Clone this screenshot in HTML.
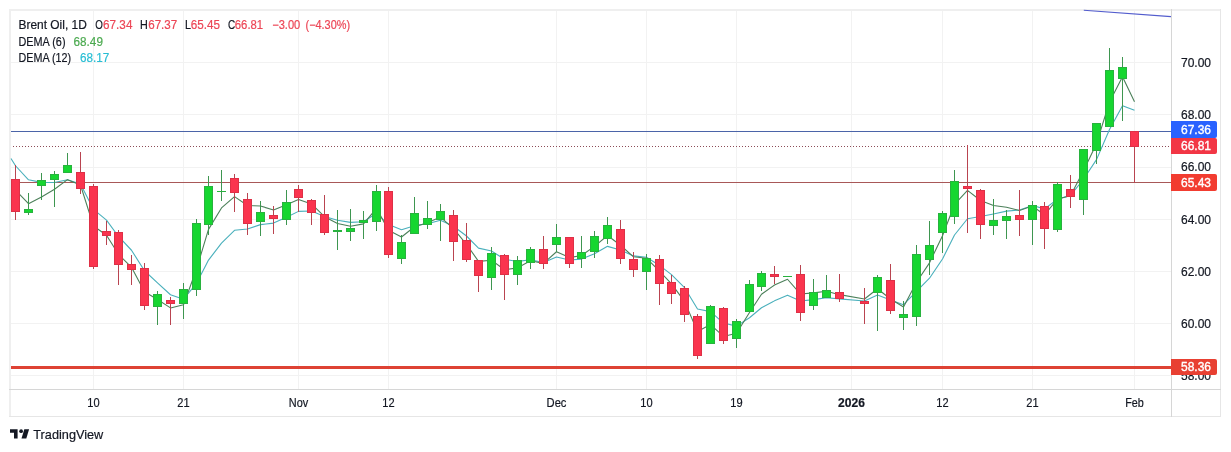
<!DOCTYPE html>
<html><head><meta charset="utf-8"><style>
html,body{margin:0;padding:0;background:#fff;width:1231px;height:452px;overflow:hidden}
svg{display:block}
text{-webkit-font-smoothing:antialiased}
svg{will-change:transform}
text{font-family:"Liberation Sans",Arial,sans-serif}
.ax{font-size:12px;fill:#131722;stroke:#131722;stroke-width:0.2px}
.lb{font-size:12px;fill:#fff;stroke:#fff;stroke-width:0.35px}
.tx{font-size:12px;fill:#131722;stroke:#131722;stroke-width:0.2px}
.b{font-weight:bold}
.lg{font-size:12px;stroke-width:0.2px}
.logo{font-size:12.6px;fill:#131722;stroke:#131722;stroke-width:0.2px}
</style></head><body>
<svg width="1231" height="452" viewBox="0 0 1231 452">
<rect x="0" y="0" width="1231" height="452" fill="#fff"/>
<g shape-rendering="crispEdges">
<rect x="9" y="9" width="1212" height="2" fill="#efefef"/>
<rect x="9" y="9" width="2" height="408" fill="#efefef"/>
<rect x="1220" y="9" width="1" height="408" fill="#e6e6e6"/>
<rect x="9" y="416" width="1212" height="1" fill="#e6e6e6"/>
</g>
<svg x="0" y="0" width="1171" height="389" overflow="hidden"><g shape-rendering="crispEdges"><rect x="11" y="62" width="1160" height="1" fill="#f2f2f2"/><rect x="11" y="114" width="1160" height="1" fill="#f2f2f2"/><rect x="11" y="167" width="1160" height="1" fill="#f2f2f2"/><rect x="11" y="219" width="1160" height="1" fill="#f2f2f2"/><rect x="11" y="271" width="1160" height="1" fill="#f2f2f2"/><rect x="11" y="323" width="1160" height="1" fill="#f2f2f2"/><rect x="11" y="375" width="1160" height="1" fill="#f2f2f2"/><rect x="93" y="11" width="1" height="378" fill="#f2f2f2"/><rect x="183" y="11" width="1" height="378" fill="#f2f2f2"/><rect x="298" y="11" width="1" height="378" fill="#f2f2f2"/><rect x="388" y="11" width="1" height="378" fill="#f2f2f2"/><rect x="556" y="11" width="1" height="378" fill="#f2f2f2"/><rect x="646" y="11" width="1" height="378" fill="#f2f2f2"/><rect x="736" y="11" width="1" height="378" fill="#f2f2f2"/><rect x="851" y="11" width="1" height="378" fill="#f2f2f2"/><rect x="942" y="11" width="1" height="378" fill="#f2f2f2"/><rect x="1032" y="11" width="1" height="378" fill="#f2f2f2"/><rect x="1134" y="11" width="1" height="378" fill="#f2f2f2"/><rect x="11" y="131" width="1160" height="1" fill="rgb(75,100,168)"/><rect x="11" y="182" width="1160" height="1" fill="rgb(168,88,88)"/><path d="M13 146h1v1h-1zM16 146h1v1h-1zM19 146h1v1h-1zM22 146h1v1h-1zM25 146h1v1h-1zM28 146h1v1h-1zM31 146h1v1h-1zM34 146h1v1h-1zM37 146h1v1h-1zM40 146h1v1h-1zM43 146h1v1h-1zM46 146h1v1h-1zM49 146h1v1h-1zM52 146h1v1h-1zM55 146h1v1h-1zM58 146h1v1h-1zM61 146h1v1h-1zM64 146h1v1h-1zM67 146h1v1h-1zM70 146h1v1h-1zM73 146h1v1h-1zM76 146h1v1h-1zM79 146h1v1h-1zM82 146h1v1h-1zM85 146h1v1h-1zM88 146h1v1h-1zM91 146h1v1h-1zM94 146h1v1h-1zM97 146h1v1h-1zM100 146h1v1h-1zM103 146h1v1h-1zM106 146h1v1h-1zM109 146h1v1h-1zM112 146h1v1h-1zM115 146h1v1h-1zM118 146h1v1h-1zM121 146h1v1h-1zM124 146h1v1h-1zM127 146h1v1h-1zM130 146h1v1h-1zM133 146h1v1h-1zM136 146h1v1h-1zM139 146h1v1h-1zM142 146h1v1h-1zM145 146h1v1h-1zM148 146h1v1h-1zM151 146h1v1h-1zM154 146h1v1h-1zM157 146h1v1h-1zM160 146h1v1h-1zM163 146h1v1h-1zM166 146h1v1h-1zM169 146h1v1h-1zM172 146h1v1h-1zM175 146h1v1h-1zM178 146h1v1h-1zM181 146h1v1h-1zM184 146h1v1h-1zM187 146h1v1h-1zM190 146h1v1h-1zM193 146h1v1h-1zM196 146h1v1h-1zM199 146h1v1h-1zM202 146h1v1h-1zM205 146h1v1h-1zM208 146h1v1h-1zM211 146h1v1h-1zM214 146h1v1h-1zM217 146h1v1h-1zM220 146h1v1h-1zM223 146h1v1h-1zM226 146h1v1h-1zM229 146h1v1h-1zM232 146h1v1h-1zM235 146h1v1h-1zM238 146h1v1h-1zM241 146h1v1h-1zM244 146h1v1h-1zM247 146h1v1h-1zM250 146h1v1h-1zM253 146h1v1h-1zM256 146h1v1h-1zM259 146h1v1h-1zM262 146h1v1h-1zM265 146h1v1h-1zM268 146h1v1h-1zM271 146h1v1h-1zM274 146h1v1h-1zM277 146h1v1h-1zM280 146h1v1h-1zM283 146h1v1h-1zM286 146h1v1h-1zM289 146h1v1h-1zM292 146h1v1h-1zM295 146h1v1h-1zM298 146h1v1h-1zM301 146h1v1h-1zM304 146h1v1h-1zM307 146h1v1h-1zM310 146h1v1h-1zM313 146h1v1h-1zM316 146h1v1h-1zM319 146h1v1h-1zM322 146h1v1h-1zM325 146h1v1h-1zM328 146h1v1h-1zM331 146h1v1h-1zM334 146h1v1h-1zM337 146h1v1h-1zM340 146h1v1h-1zM343 146h1v1h-1zM346 146h1v1h-1zM349 146h1v1h-1zM352 146h1v1h-1zM355 146h1v1h-1zM358 146h1v1h-1zM361 146h1v1h-1zM364 146h1v1h-1zM367 146h1v1h-1zM370 146h1v1h-1zM373 146h1v1h-1zM376 146h1v1h-1zM379 146h1v1h-1zM382 146h1v1h-1zM385 146h1v1h-1zM388 146h1v1h-1zM391 146h1v1h-1zM394 146h1v1h-1zM397 146h1v1h-1zM400 146h1v1h-1zM403 146h1v1h-1zM406 146h1v1h-1zM409 146h1v1h-1zM412 146h1v1h-1zM415 146h1v1h-1zM418 146h1v1h-1zM421 146h1v1h-1zM424 146h1v1h-1zM427 146h1v1h-1zM430 146h1v1h-1zM433 146h1v1h-1zM436 146h1v1h-1zM439 146h1v1h-1zM442 146h1v1h-1zM445 146h1v1h-1zM448 146h1v1h-1zM451 146h1v1h-1zM454 146h1v1h-1zM457 146h1v1h-1zM460 146h1v1h-1zM463 146h1v1h-1zM466 146h1v1h-1zM469 146h1v1h-1zM472 146h1v1h-1zM475 146h1v1h-1zM478 146h1v1h-1zM481 146h1v1h-1zM484 146h1v1h-1zM487 146h1v1h-1zM490 146h1v1h-1zM493 146h1v1h-1zM496 146h1v1h-1zM499 146h1v1h-1zM502 146h1v1h-1zM505 146h1v1h-1zM508 146h1v1h-1zM511 146h1v1h-1zM514 146h1v1h-1zM517 146h1v1h-1zM520 146h1v1h-1zM523 146h1v1h-1zM526 146h1v1h-1zM529 146h1v1h-1zM532 146h1v1h-1zM535 146h1v1h-1zM538 146h1v1h-1zM541 146h1v1h-1zM544 146h1v1h-1zM547 146h1v1h-1zM550 146h1v1h-1zM553 146h1v1h-1zM556 146h1v1h-1zM559 146h1v1h-1zM562 146h1v1h-1zM565 146h1v1h-1zM568 146h1v1h-1zM571 146h1v1h-1zM574 146h1v1h-1zM577 146h1v1h-1zM580 146h1v1h-1zM583 146h1v1h-1zM586 146h1v1h-1zM589 146h1v1h-1zM592 146h1v1h-1zM595 146h1v1h-1zM598 146h1v1h-1zM601 146h1v1h-1zM604 146h1v1h-1zM607 146h1v1h-1zM610 146h1v1h-1zM613 146h1v1h-1zM616 146h1v1h-1zM619 146h1v1h-1zM622 146h1v1h-1zM625 146h1v1h-1zM628 146h1v1h-1zM631 146h1v1h-1zM634 146h1v1h-1zM637 146h1v1h-1zM640 146h1v1h-1zM643 146h1v1h-1zM646 146h1v1h-1zM649 146h1v1h-1zM652 146h1v1h-1zM655 146h1v1h-1zM658 146h1v1h-1zM661 146h1v1h-1zM664 146h1v1h-1zM667 146h1v1h-1zM670 146h1v1h-1zM673 146h1v1h-1zM676 146h1v1h-1zM679 146h1v1h-1zM682 146h1v1h-1zM685 146h1v1h-1zM688 146h1v1h-1zM691 146h1v1h-1zM694 146h1v1h-1zM697 146h1v1h-1zM700 146h1v1h-1zM703 146h1v1h-1zM706 146h1v1h-1zM709 146h1v1h-1zM712 146h1v1h-1zM715 146h1v1h-1zM718 146h1v1h-1zM721 146h1v1h-1zM724 146h1v1h-1zM727 146h1v1h-1zM730 146h1v1h-1zM733 146h1v1h-1zM736 146h1v1h-1zM739 146h1v1h-1zM742 146h1v1h-1zM745 146h1v1h-1zM748 146h1v1h-1zM751 146h1v1h-1zM754 146h1v1h-1zM757 146h1v1h-1zM760 146h1v1h-1zM763 146h1v1h-1zM766 146h1v1h-1zM769 146h1v1h-1zM772 146h1v1h-1zM775 146h1v1h-1zM778 146h1v1h-1zM781 146h1v1h-1zM784 146h1v1h-1zM787 146h1v1h-1zM790 146h1v1h-1zM793 146h1v1h-1zM796 146h1v1h-1zM799 146h1v1h-1zM802 146h1v1h-1zM805 146h1v1h-1zM808 146h1v1h-1zM811 146h1v1h-1zM814 146h1v1h-1zM817 146h1v1h-1zM820 146h1v1h-1zM823 146h1v1h-1zM826 146h1v1h-1zM829 146h1v1h-1zM832 146h1v1h-1zM835 146h1v1h-1zM838 146h1v1h-1zM841 146h1v1h-1zM844 146h1v1h-1zM847 146h1v1h-1zM850 146h1v1h-1zM853 146h1v1h-1zM856 146h1v1h-1zM859 146h1v1h-1zM862 146h1v1h-1zM865 146h1v1h-1zM868 146h1v1h-1zM871 146h1v1h-1zM874 146h1v1h-1zM877 146h1v1h-1zM880 146h1v1h-1zM883 146h1v1h-1zM886 146h1v1h-1zM889 146h1v1h-1zM892 146h1v1h-1zM895 146h1v1h-1zM898 146h1v1h-1zM901 146h1v1h-1zM904 146h1v1h-1zM907 146h1v1h-1zM910 146h1v1h-1zM913 146h1v1h-1zM916 146h1v1h-1zM919 146h1v1h-1zM922 146h1v1h-1zM925 146h1v1h-1zM928 146h1v1h-1zM931 146h1v1h-1zM934 146h1v1h-1zM937 146h1v1h-1zM940 146h1v1h-1zM943 146h1v1h-1zM946 146h1v1h-1zM949 146h1v1h-1zM952 146h1v1h-1zM955 146h1v1h-1zM958 146h1v1h-1zM961 146h1v1h-1zM964 146h1v1h-1zM967 146h1v1h-1zM970 146h1v1h-1zM973 146h1v1h-1zM976 146h1v1h-1zM979 146h1v1h-1zM982 146h1v1h-1zM985 146h1v1h-1zM988 146h1v1h-1zM991 146h1v1h-1zM994 146h1v1h-1zM997 146h1v1h-1zM1000 146h1v1h-1zM1003 146h1v1h-1zM1006 146h1v1h-1zM1009 146h1v1h-1zM1012 146h1v1h-1zM1015 146h1v1h-1zM1018 146h1v1h-1zM1021 146h1v1h-1zM1024 146h1v1h-1zM1027 146h1v1h-1zM1030 146h1v1h-1zM1033 146h1v1h-1zM1036 146h1v1h-1zM1039 146h1v1h-1zM1042 146h1v1h-1zM1045 146h1v1h-1zM1048 146h1v1h-1zM1051 146h1v1h-1zM1054 146h1v1h-1zM1057 146h1v1h-1zM1060 146h1v1h-1zM1063 146h1v1h-1zM1066 146h1v1h-1zM1069 146h1v1h-1zM1072 146h1v1h-1zM1075 146h1v1h-1zM1078 146h1v1h-1zM1081 146h1v1h-1zM1084 146h1v1h-1zM1087 146h1v1h-1zM1090 146h1v1h-1zM1093 146h1v1h-1zM1096 146h1v1h-1zM1099 146h1v1h-1zM1102 146h1v1h-1zM1105 146h1v1h-1zM1108 146h1v1h-1zM1111 146h1v1h-1zM1114 146h1v1h-1zM1117 146h1v1h-1zM1120 146h1v1h-1zM1123 146h1v1h-1zM1126 146h1v1h-1zM1129 146h1v1h-1zM1132 146h1v1h-1zM1135 146h1v1h-1zM1138 146h1v1h-1zM1141 146h1v1h-1zM1144 146h1v1h-1zM1147 146h1v1h-1zM1150 146h1v1h-1zM1153 146h1v1h-1zM1156 146h1v1h-1zM1159 146h1v1h-1zM1162 146h1v1h-1zM1165 146h1v1h-1zM1168 146h1v1h-1z" fill="rgb(140,76,86)"/><rect x="11" y="366" width="1160" height="3" fill="rgb(222,66,52)"/><polyline points="11,158.5 15.5,165.75 28.5,179.80 41.5,182.38 54.5,182.47 67.5,179.79 80.5,184.12 93.5,209.39 106.5,220.09 118.5,236.46 131.5,250.25 144.5,270.75 157.5,282.93 170.5,294.72 183.5,299.26 196.5,283.33 208.5,260.12 221.5,243.14 234.5,230.32 247.5,228.95 260.5,224.63 273.5,223.12 286.5,217.25 298.5,211.37 311.5,211.06 324.5,216.53 337.5,220.20 350.5,222.38 363.5,221.81 376.5,213.22 388.5,224.60 401.5,229.82 414.5,225.66 427.5,223.76 440.5,220.30 453.5,226.27 466.5,236.01 478.5,248.10 491.5,250.98 504.5,259.28 517.5,261.48 530.5,259.75 543.5,262.49 556.5,256.95 569.5,260.05 581.5,259.11 594.5,253.77 607.5,246.35 620.5,249.93 633.5,255.88 646.5,257.28 659.5,265.41 671.5,274.58 684.5,287.53 697.5,309.08 710.5,311.61 723.5,323.06 736.5,326.14 749.5,317.72 761.5,307.76 774.5,300.87 787.5,295.14 800.5,301.03 813.5,299.59 826.5,297.81 839.5,298.88 864.5,300.98 877.5,295.07 890.5,299.96 903.5,304.71 916.5,291.30 929.5,278.23 942.5,258.95 954.5,235.00 967.5,218.76 980.5,216.54 993.5,213.94 1006.5,211.09 1019.5,210.02 1032.5,205.53 1044.5,208.90 1057.5,199.22 1070.5,195.40 1083.5,179.23 1096.5,159.61 1109.5,129.51 1122.5,105.69 1134.5,110.30" fill="none" stroke="rgb(74,176,188)" stroke-width="1.1" stroke-linejoin="round" shape-rendering="geometricPrecision"/><polyline points="15.5,190.10 28.5,203.67 41.5,196.94 54.5,189.21 67.5,179.66 80.5,184.98 93.5,226.05 106.5,235.20 118.5,254.30 131.5,267.30 144.5,291.68 157.5,299.52 170.5,307.91 183.5,304.76 196.5,269.21 208.5,229.40 221.5,207.95 234.5,196.60 247.5,205.51 260.5,205.99 273.5,209.99 286.5,204.67 298.5,199.47 311.5,203.97 324.5,216.72 337.5,223.43 350.5,226.24 363.5,223.90 376.5,208.36 388.5,230.15 401.5,237.00 414.5,226.80 427.5,222.84 440.5,217.04 453.5,228.54 466.5,244.29 478.5,261.41 491.5,260.23 504.5,269.72 517.5,267.87 530.5,260.68 543.5,263.34 556.5,251.74 569.5,257.62 581.5,255.53 594.5,246.42 607.5,235.46 620.5,245.25 633.5,256.79 646.5,258.23 659.5,271.22 671.5,283.87 684.5,301.36 697.5,331.44 710.5,324.60 723.5,336.46 736.5,333.30 749.5,312.56 761.5,294.28 774.5,285.03 787.5,279.25 800.5,294.06 813.5,292.91 826.5,291.26 839.5,294.66 864.5,299.04 877.5,288.76 890.5,299.02 903.5,306.94 916.5,282.19 929.5,262.83 942.5,235.74 954.5,204.44 967.5,190.33 980.5,200.45 993.5,205.51 1006.5,207.33 1019.5,210.45 1032.5,205.95 1044.5,214.97 1057.5,199.02 1070.5,195.66 1083.5,170.80 1096.5,143.70 1109.5,102.01 1122.5,76.64 1134.5,101.83" fill="none" stroke="rgb(76,128,90)" stroke-width="1.1" stroke-linejoin="round" shape-rendering="geometricPrecision"/><rect x="15" y="165" width="1" height="55" fill="rgb(185,68,80)"/><rect x="11" y="179" width="9" height="33" fill="rgb(222,48,70)"/><rect x="12" y="180" width="7" height="31" fill="rgb(250,52,78)"/><rect x="28" y="193" width="1" height="22" fill="rgb(62,150,80)"/><rect x="24" y="209" width="9" height="4" fill="rgb(40,178,62)"/><rect x="25" y="210" width="7" height="2" fill="rgb(22,214,48)"/><rect x="41" y="173" width="1" height="27" fill="rgb(62,150,80)"/><rect x="37" y="180" width="9" height="6" fill="rgb(40,178,62)"/><rect x="38" y="181" width="7" height="4" fill="rgb(22,214,48)"/><rect x="54" y="171" width="1" height="36" fill="rgb(62,150,80)"/><rect x="50" y="174" width="9" height="6" fill="rgb(40,178,62)"/><rect x="51" y="175" width="7" height="4" fill="rgb(22,214,48)"/><rect x="67" y="153" width="1" height="20" fill="rgb(62,150,80)"/><rect x="63" y="165" width="9" height="8" fill="rgb(40,178,62)"/><rect x="64" y="166" width="7" height="6" fill="rgb(22,214,48)"/><rect x="80" y="152" width="1" height="42" fill="rgb(185,68,80)"/><rect x="76" y="172" width="9" height="17" fill="rgb(222,48,70)"/><rect x="77" y="173" width="7" height="15" fill="rgb(250,52,78)"/><rect x="93" y="184" width="1" height="85" fill="rgb(185,68,80)"/><rect x="89" y="186" width="9" height="81" fill="rgb(222,48,70)"/><rect x="90" y="187" width="7" height="79" fill="rgb(250,52,78)"/><rect x="106" y="221" width="1" height="24" fill="rgb(185,68,80)"/><rect x="102" y="231" width="9" height="5" fill="rgb(222,48,70)"/><rect x="103" y="232" width="7" height="3" fill="rgb(250,52,78)"/><rect x="118" y="230" width="1" height="55" fill="rgb(185,68,80)"/><rect x="114" y="232" width="9" height="33" fill="rgb(222,48,70)"/><rect x="115" y="233" width="7" height="31" fill="rgb(250,52,78)"/><rect x="131" y="255" width="1" height="30" fill="rgb(185,68,80)"/><rect x="127" y="264" width="9" height="6" fill="rgb(222,48,70)"/><rect x="128" y="265" width="7" height="4" fill="rgb(250,52,78)"/><rect x="144" y="263" width="1" height="47" fill="rgb(185,68,80)"/><rect x="140" y="268" width="9" height="38" fill="rgb(222,48,70)"/><rect x="141" y="269" width="7" height="36" fill="rgb(250,52,78)"/><rect x="157" y="291" width="1" height="34" fill="rgb(62,150,80)"/><rect x="153" y="294" width="9" height="13" fill="rgb(40,178,62)"/><rect x="154" y="295" width="7" height="11" fill="rgb(22,214,48)"/><rect x="170" y="297" width="1" height="28" fill="rgb(185,68,80)"/><rect x="166" y="300" width="9" height="4" fill="rgb(222,48,70)"/><rect x="167" y="301" width="7" height="2" fill="rgb(250,52,78)"/><rect x="183" y="283" width="1" height="36" fill="rgb(62,150,80)"/><rect x="179" y="289" width="9" height="15" fill="rgb(40,178,62)"/><rect x="180" y="290" width="7" height="13" fill="rgb(22,214,48)"/><rect x="196" y="219" width="1" height="77" fill="rgb(62,150,80)"/><rect x="192" y="223" width="9" height="67" fill="rgb(40,178,62)"/><rect x="193" y="224" width="7" height="65" fill="rgb(22,214,48)"/><rect x="208" y="176" width="1" height="59" fill="rgb(62,150,80)"/><rect x="204" y="186" width="9" height="39" fill="rgb(40,178,62)"/><rect x="205" y="187" width="7" height="37" fill="rgb(22,214,48)"/><rect x="221" y="170" width="1" height="31" fill="rgb(62,150,80)"/><rect x="217" y="191" width="9" height="1" fill="rgb(40,178,62)"/><rect x="234" y="174" width="1" height="38" fill="rgb(185,68,80)"/><rect x="230" y="178" width="9" height="15" fill="rgb(222,48,70)"/><rect x="231" y="179" width="7" height="13" fill="rgb(250,52,78)"/><rect x="247" y="193" width="1" height="42" fill="rgb(185,68,80)"/><rect x="243" y="199" width="9" height="25" fill="rgb(222,48,70)"/><rect x="244" y="200" width="7" height="23" fill="rgb(250,52,78)"/><rect x="260" y="201" width="1" height="35" fill="rgb(62,150,80)"/><rect x="256" y="212" width="9" height="10" fill="rgb(40,178,62)"/><rect x="257" y="213" width="7" height="8" fill="rgb(22,214,48)"/><rect x="273" y="206" width="1" height="28" fill="rgb(185,68,80)"/><rect x="269" y="215" width="9" height="4" fill="rgb(222,48,70)"/><rect x="270" y="216" width="7" height="2" fill="rgb(250,52,78)"/><rect x="286" y="190" width="1" height="35" fill="rgb(62,150,80)"/><rect x="282" y="202" width="9" height="18" fill="rgb(40,178,62)"/><rect x="283" y="203" width="7" height="16" fill="rgb(22,214,48)"/><rect x="298" y="185" width="1" height="27" fill="rgb(185,68,80)"/><rect x="294" y="189" width="9" height="9" fill="rgb(222,48,70)"/><rect x="295" y="190" width="7" height="7" fill="rgb(250,52,78)"/><rect x="311" y="199" width="1" height="26" fill="rgb(185,68,80)"/><rect x="307" y="200" width="9" height="13" fill="rgb(222,48,70)"/><rect x="308" y="201" width="7" height="11" fill="rgb(250,52,78)"/><rect x="324" y="195" width="1" height="40" fill="rgb(185,68,80)"/><rect x="320" y="214" width="9" height="19" fill="rgb(222,48,70)"/><rect x="321" y="215" width="7" height="17" fill="rgb(250,52,78)"/><rect x="337" y="210" width="1" height="40" fill="rgb(62,150,80)"/><rect x="333" y="230" width="9" height="2" fill="rgb(40,178,62)"/><rect x="350" y="209" width="1" height="32" fill="rgb(62,150,80)"/><rect x="346" y="228" width="9" height="4" fill="rgb(40,178,62)"/><rect x="347" y="229" width="7" height="2" fill="rgb(22,214,48)"/><rect x="363" y="211" width="1" height="28" fill="rgb(62,150,80)"/><rect x="359" y="220" width="9" height="3" fill="rgb(40,178,62)"/><rect x="360" y="221" width="7" height="1" fill="rgb(22,214,48)"/><rect x="376" y="185" width="1" height="46" fill="rgb(62,150,80)"/><rect x="372" y="191" width="9" height="31" fill="rgb(40,178,62)"/><rect x="373" y="192" width="7" height="29" fill="rgb(22,214,48)"/><rect x="388" y="187" width="1" height="71" fill="rgb(185,68,80)"/><rect x="384" y="191" width="9" height="64" fill="rgb(222,48,70)"/><rect x="385" y="192" width="7" height="62" fill="rgb(250,52,78)"/><rect x="401" y="235" width="1" height="29" fill="rgb(62,150,80)"/><rect x="397" y="242" width="9" height="17" fill="rgb(40,178,62)"/><rect x="398" y="243" width="7" height="15" fill="rgb(22,214,48)"/><rect x="414" y="197" width="1" height="37" fill="rgb(62,150,80)"/><rect x="410" y="213" width="9" height="21" fill="rgb(40,178,62)"/><rect x="411" y="214" width="7" height="19" fill="rgb(22,214,48)"/><rect x="427" y="201" width="1" height="28" fill="rgb(62,150,80)"/><rect x="423" y="218" width="9" height="7" fill="rgb(40,178,62)"/><rect x="424" y="219" width="7" height="5" fill="rgb(22,214,48)"/><rect x="440" y="204" width="1" height="37" fill="rgb(62,150,80)"/><rect x="436" y="211" width="9" height="9" fill="rgb(40,178,62)"/><rect x="437" y="212" width="7" height="7" fill="rgb(22,214,48)"/><rect x="453" y="210" width="1" height="51" fill="rgb(185,68,80)"/><rect x="449" y="215" width="9" height="27" fill="rgb(222,48,70)"/><rect x="450" y="216" width="7" height="25" fill="rgb(250,52,78)"/><rect x="466" y="223" width="1" height="39" fill="rgb(185,68,80)"/><rect x="462" y="240" width="9" height="20" fill="rgb(222,48,70)"/><rect x="463" y="241" width="7" height="18" fill="rgb(250,52,78)"/><rect x="478" y="260" width="1" height="32" fill="rgb(185,68,80)"/><rect x="474" y="260" width="9" height="16" fill="rgb(222,48,70)"/><rect x="475" y="261" width="7" height="14" fill="rgb(250,52,78)"/><rect x="491" y="247" width="1" height="43" fill="rgb(62,150,80)"/><rect x="487" y="253" width="9" height="25" fill="rgb(40,178,62)"/><rect x="488" y="254" width="7" height="23" fill="rgb(22,214,48)"/><rect x="504" y="254" width="1" height="46" fill="rgb(185,68,80)"/><rect x="500" y="255" width="9" height="20" fill="rgb(222,48,70)"/><rect x="501" y="256" width="7" height="18" fill="rgb(250,52,78)"/><rect x="517" y="256" width="1" height="29" fill="rgb(62,150,80)"/><rect x="513" y="260" width="9" height="15" fill="rgb(40,178,62)"/><rect x="514" y="261" width="7" height="13" fill="rgb(22,214,48)"/><rect x="530" y="247" width="1" height="22" fill="rgb(62,150,80)"/><rect x="526" y="249" width="9" height="14" fill="rgb(40,178,62)"/><rect x="527" y="250" width="7" height="12" fill="rgb(22,214,48)"/><rect x="543" y="236" width="1" height="33" fill="rgb(185,68,80)"/><rect x="539" y="249" width="9" height="15" fill="rgb(222,48,70)"/><rect x="540" y="250" width="7" height="13" fill="rgb(250,52,78)"/><rect x="556" y="224" width="1" height="28" fill="rgb(62,150,80)"/><rect x="552" y="237" width="9" height="8" fill="rgb(40,178,62)"/><rect x="553" y="238" width="7" height="6" fill="rgb(22,214,48)"/><rect x="569" y="237" width="1" height="31" fill="rgb(185,68,80)"/><rect x="565" y="237" width="9" height="27" fill="rgb(222,48,70)"/><rect x="566" y="238" width="7" height="25" fill="rgb(250,52,78)"/><rect x="581" y="236" width="1" height="32" fill="rgb(62,150,80)"/><rect x="577" y="252" width="9" height="7" fill="rgb(40,178,62)"/><rect x="578" y="253" width="7" height="5" fill="rgb(22,214,48)"/><rect x="594" y="231" width="1" height="27" fill="rgb(62,150,80)"/><rect x="590" y="236" width="9" height="16" fill="rgb(40,178,62)"/><rect x="591" y="237" width="7" height="14" fill="rgb(22,214,48)"/><rect x="607" y="217" width="1" height="27" fill="rgb(62,150,80)"/><rect x="603" y="225" width="9" height="14" fill="rgb(40,178,62)"/><rect x="604" y="226" width="7" height="12" fill="rgb(22,214,48)"/><rect x="620" y="220" width="1" height="44" fill="rgb(185,68,80)"/><rect x="616" y="229" width="9" height="30" fill="rgb(222,48,70)"/><rect x="617" y="230" width="7" height="28" fill="rgb(250,52,78)"/><rect x="633" y="252" width="1" height="25" fill="rgb(185,68,80)"/><rect x="629" y="259" width="9" height="11" fill="rgb(222,48,70)"/><rect x="630" y="260" width="7" height="9" fill="rgb(250,52,78)"/><rect x="646" y="254" width="1" height="36" fill="rgb(62,150,80)"/><rect x="642" y="258" width="9" height="14" fill="rgb(40,178,62)"/><rect x="643" y="259" width="7" height="12" fill="rgb(22,214,48)"/><rect x="659" y="255" width="1" height="50" fill="rgb(185,68,80)"/><rect x="655" y="259" width="9" height="25" fill="rgb(222,48,70)"/><rect x="656" y="260" width="7" height="23" fill="rgb(250,52,78)"/><rect x="671" y="275" width="1" height="29" fill="rgb(185,68,80)"/><rect x="667" y="282" width="9" height="12" fill="rgb(222,48,70)"/><rect x="668" y="283" width="7" height="10" fill="rgb(250,52,78)"/><rect x="684" y="286" width="1" height="36" fill="rgb(185,68,80)"/><rect x="680" y="288" width="9" height="27" fill="rgb(222,48,70)"/><rect x="681" y="289" width="7" height="25" fill="rgb(250,52,78)"/><rect x="697" y="314" width="1" height="45" fill="rgb(185,68,80)"/><rect x="693" y="316" width="9" height="40" fill="rgb(222,48,70)"/><rect x="694" y="317" width="7" height="38" fill="rgb(250,52,78)"/><rect x="710" y="305" width="1" height="39" fill="rgb(62,150,80)"/><rect x="706" y="306" width="9" height="38" fill="rgb(40,178,62)"/><rect x="707" y="307" width="7" height="36" fill="rgb(22,214,48)"/><rect x="723" y="307" width="1" height="37" fill="rgb(185,68,80)"/><rect x="719" y="308" width="9" height="33" fill="rgb(222,48,70)"/><rect x="720" y="309" width="7" height="31" fill="rgb(250,52,78)"/><rect x="736" y="319" width="1" height="29" fill="rgb(62,150,80)"/><rect x="732" y="321" width="9" height="18" fill="rgb(40,178,62)"/><rect x="733" y="322" width="7" height="16" fill="rgb(22,214,48)"/><rect x="749" y="280" width="1" height="32" fill="rgb(62,150,80)"/><rect x="745" y="284" width="9" height="28" fill="rgb(40,178,62)"/><rect x="746" y="285" width="7" height="26" fill="rgb(22,214,48)"/><rect x="761" y="271" width="1" height="20" fill="rgb(62,150,80)"/><rect x="757" y="273" width="9" height="14" fill="rgb(40,178,62)"/><rect x="758" y="274" width="7" height="12" fill="rgb(22,214,48)"/><rect x="774" y="266" width="1" height="18" fill="rgb(185,68,80)"/><rect x="770" y="274" width="9" height="3" fill="rgb(222,48,70)"/><rect x="771" y="275" width="7" height="1" fill="rgb(250,52,78)"/><rect x="787" y="276" width="1" height="1" fill="rgb(62,150,80)"/><rect x="783" y="276" width="9" height="1" fill="rgb(40,178,62)"/><rect x="800" y="265" width="1" height="56" fill="rgb(185,68,80)"/><rect x="796" y="274" width="9" height="39" fill="rgb(222,48,70)"/><rect x="797" y="275" width="7" height="37" fill="rgb(250,52,78)"/><rect x="813" y="279" width="1" height="31" fill="rgb(62,150,80)"/><rect x="809" y="292" width="9" height="14" fill="rgb(40,178,62)"/><rect x="810" y="293" width="7" height="12" fill="rgb(22,214,48)"/><rect x="826" y="275" width="1" height="23" fill="rgb(62,150,80)"/><rect x="822" y="290" width="9" height="8" fill="rgb(40,178,62)"/><rect x="823" y="291" width="7" height="6" fill="rgb(22,214,48)"/><rect x="839" y="274" width="1" height="28" fill="rgb(185,68,80)"/><rect x="835" y="292" width="9" height="7" fill="rgb(222,48,70)"/><rect x="836" y="293" width="7" height="5" fill="rgb(250,52,78)"/><rect x="864" y="288" width="1" height="36" fill="rgb(185,68,80)"/><rect x="860" y="301" width="9" height="3" fill="rgb(222,48,70)"/><rect x="861" y="302" width="7" height="1" fill="rgb(250,52,78)"/><rect x="877" y="275" width="1" height="56" fill="rgb(62,150,80)"/><rect x="873" y="277" width="9" height="16" fill="rgb(40,178,62)"/><rect x="874" y="278" width="7" height="14" fill="rgb(22,214,48)"/><rect x="890" y="264" width="1" height="50" fill="rgb(185,68,80)"/><rect x="886" y="280" width="9" height="31" fill="rgb(222,48,70)"/><rect x="887" y="281" width="7" height="29" fill="rgb(250,52,78)"/><rect x="903" y="301" width="1" height="29" fill="rgb(62,150,80)"/><rect x="899" y="314" width="9" height="4" fill="rgb(40,178,62)"/><rect x="900" y="315" width="7" height="2" fill="rgb(22,214,48)"/><rect x="916" y="245" width="1" height="81" fill="rgb(62,150,80)"/><rect x="912" y="254" width="9" height="63" fill="rgb(40,178,62)"/><rect x="913" y="255" width="7" height="61" fill="rgb(22,214,48)"/><rect x="929" y="221" width="1" height="54" fill="rgb(62,150,80)"/><rect x="925" y="245" width="9" height="15" fill="rgb(40,178,62)"/><rect x="926" y="246" width="7" height="13" fill="rgb(22,214,48)"/><rect x="942" y="211" width="1" height="42" fill="rgb(62,150,80)"/><rect x="938" y="213" width="9" height="20" fill="rgb(40,178,62)"/><rect x="939" y="214" width="7" height="18" fill="rgb(22,214,48)"/><rect x="954" y="170" width="1" height="54" fill="rgb(62,150,80)"/><rect x="950" y="181" width="9" height="36" fill="rgb(40,178,62)"/><rect x="951" y="182" width="7" height="34" fill="rgb(22,214,48)"/><rect x="967" y="145" width="1" height="88" fill="rgb(185,68,80)"/><rect x="963" y="186" width="9" height="3" fill="rgb(222,48,70)"/><rect x="964" y="187" width="7" height="1" fill="rgb(250,52,78)"/><rect x="980" y="189" width="1" height="50" fill="rgb(185,68,80)"/><rect x="976" y="190" width="9" height="35" fill="rgb(222,48,70)"/><rect x="977" y="191" width="7" height="33" fill="rgb(250,52,78)"/><rect x="993" y="199" width="1" height="36" fill="rgb(62,150,80)"/><rect x="989" y="220" width="9" height="6" fill="rgb(40,178,62)"/><rect x="990" y="221" width="7" height="4" fill="rgb(22,214,48)"/><rect x="1006" y="210" width="1" height="29" fill="rgb(62,150,80)"/><rect x="1002" y="216" width="9" height="5" fill="rgb(40,178,62)"/><rect x="1003" y="217" width="7" height="3" fill="rgb(22,214,48)"/><rect x="1019" y="190" width="1" height="46" fill="rgb(185,68,80)"/><rect x="1015" y="215" width="9" height="5" fill="rgb(222,48,70)"/><rect x="1016" y="216" width="7" height="3" fill="rgb(250,52,78)"/><rect x="1032" y="201" width="1" height="44" fill="rgb(62,150,80)"/><rect x="1028" y="205" width="9" height="15" fill="rgb(40,178,62)"/><rect x="1029" y="206" width="7" height="13" fill="rgb(22,214,48)"/><rect x="1044" y="202" width="1" height="47" fill="rgb(185,68,80)"/><rect x="1040" y="206" width="9" height="23" fill="rgb(222,48,70)"/><rect x="1041" y="207" width="7" height="21" fill="rgb(250,52,78)"/><rect x="1057" y="182" width="1" height="50" fill="rgb(62,150,80)"/><rect x="1053" y="184" width="9" height="46" fill="rgb(40,178,62)"/><rect x="1054" y="185" width="7" height="44" fill="rgb(22,214,48)"/><rect x="1070" y="175" width="1" height="33" fill="rgb(185,68,80)"/><rect x="1066" y="189" width="9" height="8" fill="rgb(222,48,70)"/><rect x="1067" y="190" width="7" height="6" fill="rgb(250,52,78)"/><rect x="1083" y="149" width="1" height="66" fill="rgb(62,150,80)"/><rect x="1079" y="149" width="9" height="51" fill="rgb(40,178,62)"/><rect x="1080" y="150" width="7" height="49" fill="rgb(22,214,48)"/><rect x="1096" y="123" width="1" height="41" fill="rgb(62,150,80)"/><rect x="1092" y="123" width="9" height="28" fill="rgb(40,178,62)"/><rect x="1093" y="124" width="7" height="26" fill="rgb(22,214,48)"/><rect x="1109" y="48" width="1" height="79" fill="rgb(62,150,80)"/><rect x="1105" y="70" width="9" height="57" fill="rgb(40,178,62)"/><rect x="1106" y="71" width="7" height="55" fill="rgb(22,214,48)"/><rect x="1122" y="57" width="1" height="64" fill="rgb(62,150,80)"/><rect x="1118" y="67" width="9" height="12" fill="rgb(40,178,62)"/><rect x="1119" y="68" width="7" height="10" fill="rgb(22,214,48)"/><rect x="1134" y="131" width="1" height="52" fill="rgb(185,68,80)"/><rect x="1130" y="131" width="9" height="16" fill="rgb(222,48,70)"/><rect x="1131" y="132" width="7" height="14" fill="rgb(250,52,78)"/><line x1="1083.8" y1="10.2" x2="1171" y2="16.6" stroke="rgb(82,92,205)" stroke-width="1.1" shape-rendering="geometricPrecision"/></g></svg>
<g shape-rendering="crispEdges">
<rect x="1171" y="9" width="1" height="408" fill="#d6d6d6"/>
<rect x="9" y="389" width="1212" height="1" fill="#d6d6d6"/>
</g>
<text x="1196" y="66.9" text-anchor="middle" class="ax">70.00</text><text x="1196" y="119.1" text-anchor="middle" class="ax">68.00</text><text x="1196" y="171.3" text-anchor="middle" class="ax">66.00</text><text x="1196" y="223.6" text-anchor="middle" class="ax">64.00</text><text x="1196" y="275.8" text-anchor="middle" class="ax">62.00</text><text x="1196" y="328.0" text-anchor="middle" class="ax">60.00</text><text x="1196" y="380.2" text-anchor="middle" class="ax">58.00</text>
<path d="M1171 121h44a2 2 0 0 1 2 2v13a2 2 0 0 1 -2 2h-44z" fill="rgb(41,98,255)"/><text x="1196" y="133.8" text-anchor="middle" class="lb">67.36</text><path d="M1171 138h44a2 2 0 0 1 2 2v12a2 2 0 0 1 -2 2h-44z" fill="rgb(242,54,69)"/><text x="1196" y="150.3" text-anchor="middle" class="lb">66.81</text><path d="M1171 174h44a2 2 0 0 1 2 2v13a2 2 0 0 1 -2 2h-44z" fill="rgb(242,60,48)"/><text x="1196" y="186.8" text-anchor="middle" class="lb">65.43</text><path d="M1171 359h44a2 2 0 0 1 2 2v12a2 2 0 0 1 -2 2h-44z" fill="rgb(232,64,50)"/><text x="1196" y="371.3" text-anchor="middle" class="lb">58.36</text>
<text x="93.5" y="407.3" text-anchor="middle" class="tx" textLength="12.3" lengthAdjust="spacingAndGlyphs">10</text><text x="183.5" y="407.3" text-anchor="middle" class="tx" textLength="12.3" lengthAdjust="spacingAndGlyphs">21</text><text x="298.5" y="407.3" text-anchor="middle" class="tx" textLength="19.4" lengthAdjust="spacingAndGlyphs">Nov</text><text x="388.5" y="407.3" text-anchor="middle" class="tx" textLength="12.3" lengthAdjust="spacingAndGlyphs">12</text><text x="556.5" y="407.3" text-anchor="middle" class="tx" textLength="19.9" lengthAdjust="spacingAndGlyphs">Dec</text><text x="646.5" y="407.3" text-anchor="middle" class="tx" textLength="12.3" lengthAdjust="spacingAndGlyphs">10</text><text x="736.5" y="407.3" text-anchor="middle" class="tx" textLength="12.3" lengthAdjust="spacingAndGlyphs">19</text><text x="851.5" y="407.3" text-anchor="middle" class="tx b" textLength="26.8" lengthAdjust="spacingAndGlyphs">2026</text><text x="942.5" y="407.3" text-anchor="middle" class="tx" textLength="12.3" lengthAdjust="spacingAndGlyphs">12</text><text x="1032.5" y="407.3" text-anchor="middle" class="tx" textLength="12.3" lengthAdjust="spacingAndGlyphs">21</text><text x="1134.5" y="407.3" text-anchor="middle" class="tx" textLength="18.6" lengthAdjust="spacingAndGlyphs">Feb</text>
<text x="18.5" y="29" class="lg" fill="#131722" stroke="#131722" textLength="68.3" lengthAdjust="spacingAndGlyphs">Brent Oil, 1D</text><text x="95.2" y="29" class="lg" fill="#131722" stroke="#131722" textLength="7.6" lengthAdjust="spacingAndGlyphs">O</text><text x="103.1" y="29" class="lg" fill="rgb(236,70,86)" stroke="rgb(236,70,86)" textLength="29.3" lengthAdjust="spacingAndGlyphs">67.34</text><text x="140.1" y="29" class="lg" fill="#131722" stroke="#131722" textLength="7.8" lengthAdjust="spacingAndGlyphs">H</text><text x="148.2" y="29" class="lg" fill="rgb(236,70,86)" stroke="rgb(236,70,86)" textLength="29.0" lengthAdjust="spacingAndGlyphs">67.37</text><text x="185" y="29" class="lg" fill="#131722" stroke="#131722" textLength="6" lengthAdjust="spacingAndGlyphs">L</text><text x="190.8" y="29" class="lg" fill="rgb(236,70,86)" stroke="rgb(236,70,86)" textLength="29.2" lengthAdjust="spacingAndGlyphs">65.45</text><text x="227.9" y="29" class="lg" fill="#131722" stroke="#131722" textLength="7.2" lengthAdjust="spacingAndGlyphs">C</text><text x="234.8" y="29" class="lg" fill="rgb(236,70,86)" stroke="rgb(236,70,86)" textLength="28.3" lengthAdjust="spacingAndGlyphs">66.81</text><text x="272.2" y="29" class="lg" fill="rgb(236,70,86)" stroke="rgb(236,70,86)" textLength="28.1" lengthAdjust="spacingAndGlyphs">−3.00</text><text x="305.5" y="29" class="lg" fill="rgb(236,70,86)" stroke="rgb(236,70,86)" textLength="44.6" lengthAdjust="spacingAndGlyphs">(−4.30%)</text><text x="18.5" y="45.6" class="lg" fill="#131722" stroke="#131722" textLength="47" lengthAdjust="spacingAndGlyphs">DEMA (6)</text><text x="73.6" y="45.6" class="lg" fill="rgb(76,170,80)" stroke="rgb(76,170,80)" textLength="29.3" lengthAdjust="spacingAndGlyphs">68.49</text><text x="18.5" y="62.4" class="lg" fill="#131722" stroke="#131722" textLength="52.6" lengthAdjust="spacingAndGlyphs">DEMA (12)</text><text x="79.9" y="62.4" class="lg" fill="rgb(40,190,212)" stroke="rgb(40,190,212)" textLength="29.3" lengthAdjust="spacingAndGlyphs">68.17</text>
<g fill="#131722"><path d="M10 429.2H17.6V438.6H14V432.8H10Z"/><circle cx="21.1" cy="431.2" r="1.85"/><path d="M24.3 429.2H29.1L26.3 438.6H21.5Z"/></g><text x="33.3" y="438.7" class="logo" textLength="70" lengthAdjust="spacingAndGlyphs">TradingView</text>
</svg>
</body></html>
